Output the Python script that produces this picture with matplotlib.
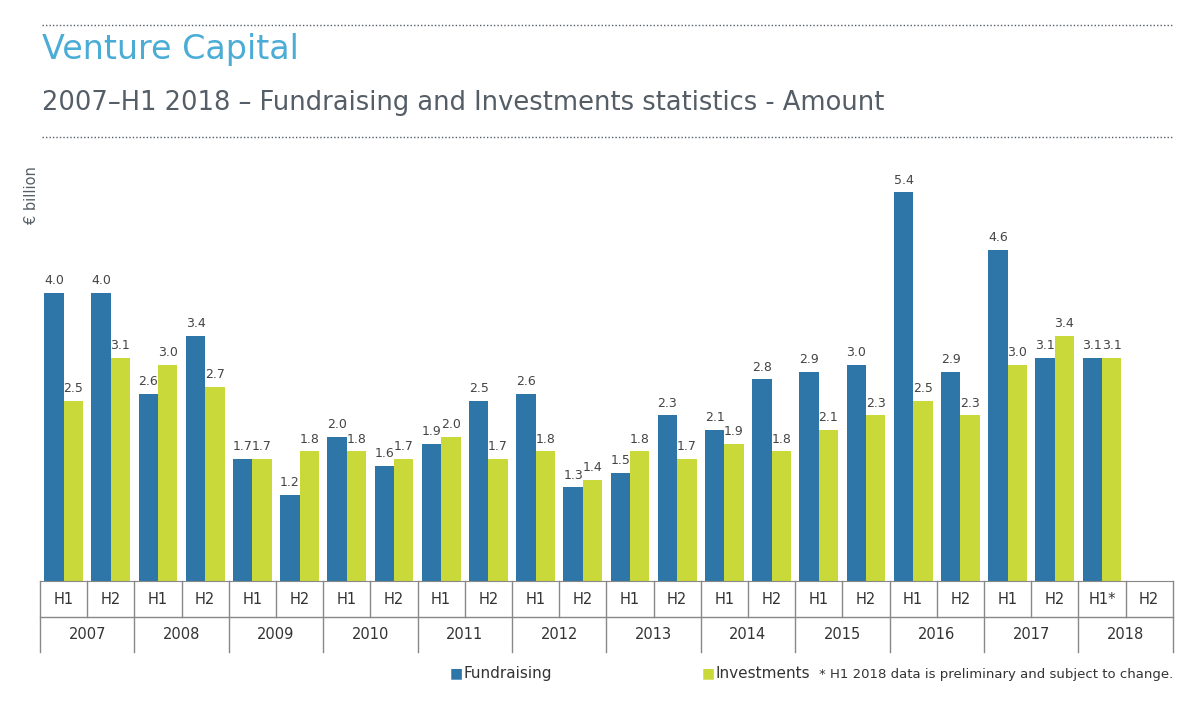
import matplotlib
matplotlib.use("Agg")
import matplotlib.pyplot as plt
import numpy as np
from matplotlib.transforms import blended_transform_factory

years = ["2007","2008","2009","2010","2011","2012","2013","2014","2015","2016","2017","2018"]
halves = ["H1","H2"]*11 + ["H1*","H2"]
fund = [4.0,4.0,2.6,3.4,1.7,1.2,2.0,1.6,1.9,2.5,2.6,1.3,1.5,2.3,2.1,2.8,2.9,3.0,5.4,2.9,4.6,3.1,3.1,None]
inv  = [2.5,3.1,3.0,2.7,1.7,1.8,1.8,1.7,2.0,1.7,1.8,1.4,1.8,1.7,1.9,1.8,2.1,2.3,2.5,2.3,3.0,3.4,3.1,None]

BLUE = "#2e75a8"; GREEN = "#c9d93a"; GRAY = "#555e66"
plt.rcParams['font.family'] = ['DejaVu Sans']
fig = plt.figure(figsize=(12, 7.09), dpi=100)
ax = fig.add_axes([0.0333, 0.1805, 0.944, 0.594])
n = len(halves)
x = np.arange(n)
w = 0.41
for i in range(n):
    if fund[i] is not None:
        ax.bar(x[i]-w/2, fund[i], w, color=BLUE)
        ax.text(x[i]-w/2, fund[i]+0.08, f"{fund[i]:.1f}", ha='center', va='bottom', fontsize=9, color="#444")
    if inv[i] is not None:
        ax.bar(x[i]+w/2, inv[i], w, color=GREEN)
        ax.text(x[i]+w/2, inv[i]+0.08, f"{inv[i]:.1f}", ha='center', va='bottom', fontsize=9, color="#444")
ax.set_xlim(-0.5, n-0.5)
ax.set_ylim(0, 5.85)
for s in ['top','right','left']:
    ax.spines[s].set_visible(False)
ax.spines['bottom'].set_color('#888')
ax.set_xticks([]); ax.set_yticks([])

tr = blended_transform_factory(ax.transData, ax.transAxes)
r1 = -0.0855; r2 = -0.169
for i in range(n+1):
    b = i-0.5
    y0 = r2 if i % 2 == 0 else r1
    ax.plot([b,b],[0,y0], transform=tr, color='#888', lw=1, clip_on=False)
ax.plot([-0.5,n-0.5],[r1,r1], transform=tr, color='#888', lw=1, clip_on=False)
for i,h in enumerate(halves):
    ax.text(i, -0.0428, h, transform=tr, ha='center', va='center', fontsize=10.5, color='#333')
for j,y in enumerate(years):
    ax.text(2*j+0.5, -0.126, y, transform=tr, ha='center', va='center', fontsize=10.5, color='#333')

fig.text(0.035, 0.93, "Venture Capital", fontsize=24, color="#4bacd6", va='center')
fig.text(0.035, 0.855, "2007–H1 2018 – Fundraising and Investments statistics - Amount", fontsize=18.5, color=GRAY, va='center')
for yy in [709-25, 709-137]:
    fig.add_artist(plt.Line2D([0.035, 0.978], [yy/709, yy/709], color=GRAY, lw=1, ls=(0,(1,1.5))))
fig.text(0.026, 0.725, "€ billion", rotation=90, fontsize=10.5, color=GRAY, ha='center', va='center')

fig.text(0.375, 0.05, "■", color=BLUE, fontsize=10, va='center')
fig.text(0.386, 0.05, "Fundraising", color='#333', fontsize=11, va='center')
fig.text(0.585, 0.05, "■", color=GREEN, fontsize=10, va='center')
fig.text(0.596, 0.05, "Investments", color='#333', fontsize=11, va='center')
fig.text(0.978, 0.048, "* H1 2018 data is preliminary and subject to change.", color='#333', fontsize=9.5, ha='right', va='center')
fig.savefig("out.png", dpi=100, facecolor='white')
